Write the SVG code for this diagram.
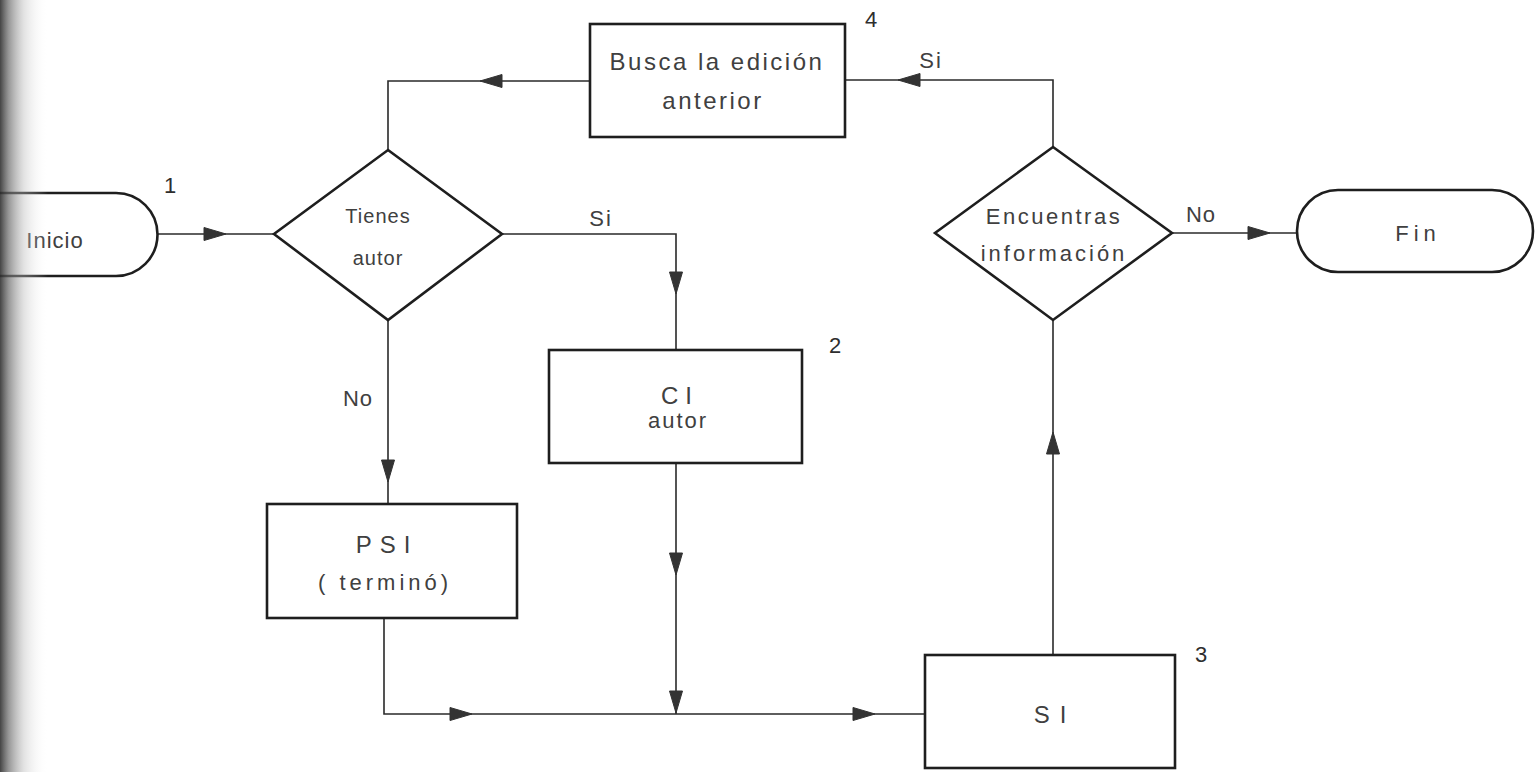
<svg xmlns="http://www.w3.org/2000/svg" width="1535" height="772" viewBox="0 0 1535 772">
  <style>
    .shape { fill: none; stroke: #1e1e1e; stroke-width: 2.6; stroke-linejoin: miter; }
    .wire { fill: none; stroke: #2a2a2a; stroke-width: 1.6; }
    .head { fill: #333; stroke: #333; stroke-width: 1; stroke-linejoin: miter; }
    text { font-family: "Liberation Sans", Arial, sans-serif; fill: #404040; text-anchor: middle; }
    .t24 { font-size: 24px; }
    .t22 { font-size: 22px; }
    .t20 { font-size: 20px; }
    .num { font-size: 22px; fill: #2e2e2e; }
  </style>
  <defs>
    <!-- arrowhead pointing along +x with its tip at the origin -->
    <polygon id="ah" points="-22,-6.5 0,0 -22,6.5" class="head"/>
    <linearGradient id="binding" x1="0" y1="0" x2="1" y2="0">
      <stop offset="0" stop-color="#2f2f2f" stop-opacity="0.9"/>
      <stop offset="0.18" stop-color="#6a6a6a" stop-opacity="0.7"/>
      <stop offset="0.5" stop-color="#b8b8b8" stop-opacity="0.4"/>
      <stop offset="1" stop-color="#ffffff" stop-opacity="0"/>
    </linearGradient>
  </defs>

  <rect x="0" y="0" width="1535" height="772" fill="#ffffff"/>

  <!-- connectors -->
  <g id="connectors">
    <path class="wire" d="M157,234 H274"/>
    <path class="wire" d="M502,234 H676 V350"/>
    <path class="wire" d="M388,320 V504"/>
    <path class="wire" d="M676,463 V714"/>
    <path class="wire" d="M384,618 V714 H925"/>
    <path class="wire" d="M1053,655 V320"/>
    <path class="wire" d="M1172,233 H1297"/>
    <path class="wire" d="M1053,147 V80 H845"/>
    <path class="wire" d="M590,81 H388 V150"/>

    <use href="#ah" transform="translate(226,234)"/>
    <use href="#ah" transform="translate(676,294) rotate(90)"/>
    <use href="#ah" transform="translate(388,482) rotate(90)"/>
    <use href="#ah" transform="translate(676,575) rotate(90)"/>
    <use href="#ah" transform="translate(676,713) rotate(90)"/>
    <use href="#ah" transform="translate(472,714)"/>
    <use href="#ah" transform="translate(875,714)"/>
    <use href="#ah" transform="translate(1053,432) rotate(-90)"/>
    <use href="#ah" transform="translate(1270,233)"/>
    <use href="#ah" transform="translate(898,80) rotate(180)"/>
    <use href="#ah" transform="translate(480,81) rotate(180)"/>

    <text class="t22" x="601" y="226" letter-spacing="2">Si</text>
    <text class="t22" x="358" y="406" letter-spacing="1">No</text>
    <text class="t22" x="1201" y="222" letter-spacing="1">No</text>
    <text class="t22" x="931" y="68" letter-spacing="2">Si</text>
  </g>

  <!-- start terminal -->
  <g id="inicio">
    <path class="shape" d="M-5,193 H116 A41.5,41.5 0 0 1 116,276 H-5"/>
    <text class="t22" x="55" y="248" letter-spacing="1">Inicio</text>
    <text class="num" x="170" y="193" font-size="20">1</text>
  </g>

  <!-- decision: author known? -->
  <g id="tienes-autor">
    <polygon class="shape" points="388,150 502,234 388,320 274,234"/>
    <text class="t20" x="378" y="223" letter-spacing="1">Tienes</text>
    <text class="t20" x="378" y="265" letter-spacing="1">autor</text>
  </g>

  <!-- previous edition lookup -->
  <g id="busca-edicion">
    <rect class="shape" x="590" y="24" width="255" height="113"/>
    <text class="t24" x="717" y="70" letter-spacing="2.5">Busca la edición</text>
    <text class="t24" x="713" y="109" letter-spacing="2.5">anterior</text>
    <text class="num" x="871" y="27">4</text>
  </g>

  <!-- CI by author -->
  <g id="ci-autor">
    <rect class="shape" x="549" y="350" width="253" height="113"/>
    <text class="t24" x="680" y="404" letter-spacing="7">CI</text>
    <text class="t22" x="678" y="428" letter-spacing="2">autor</text>
    <text class="num" x="835" y="353">2</text>
  </g>

  <!-- PSI by term -->
  <g id="psi">
    <rect class="shape" x="267" y="504" width="250" height="114"/>
    <text class="t24" x="387" y="553" letter-spacing="8">PSI</text>
    <text class="t22" x="385" y="590" letter-spacing="4">( terminó)</text>
  </g>

  <!-- SI -->
  <g id="si">
    <rect class="shape" x="925" y="655" width="250" height="113"/>
    <text class="t24" x="1055" y="723" letter-spacing="10">SI</text>
    <text class="num" x="1201" y="662">3</text>
  </g>

  <!-- decision: information found? -->
  <g id="encuentras">
    <polygon class="shape" points="1053,147 1172,233 1053,320 935,233"/>
    <text class="t22" x="1054" y="224" letter-spacing="2.5">Encuentras</text>
    <text class="t22" x="1054" y="261" letter-spacing="3">información</text>
  </g>

  <!-- end terminal -->
  <g id="fin">
    <rect class="shape" x="1297" y="190" width="236" height="82" rx="41" ry="41"/>
    <text class="t22" x="1418" y="241" letter-spacing="5">Fin</text>
  </g>

  <!-- page binding shadow along the left edge -->
  <rect x="0" y="0" width="48" height="772" fill="url(#binding)"/>
</svg>
